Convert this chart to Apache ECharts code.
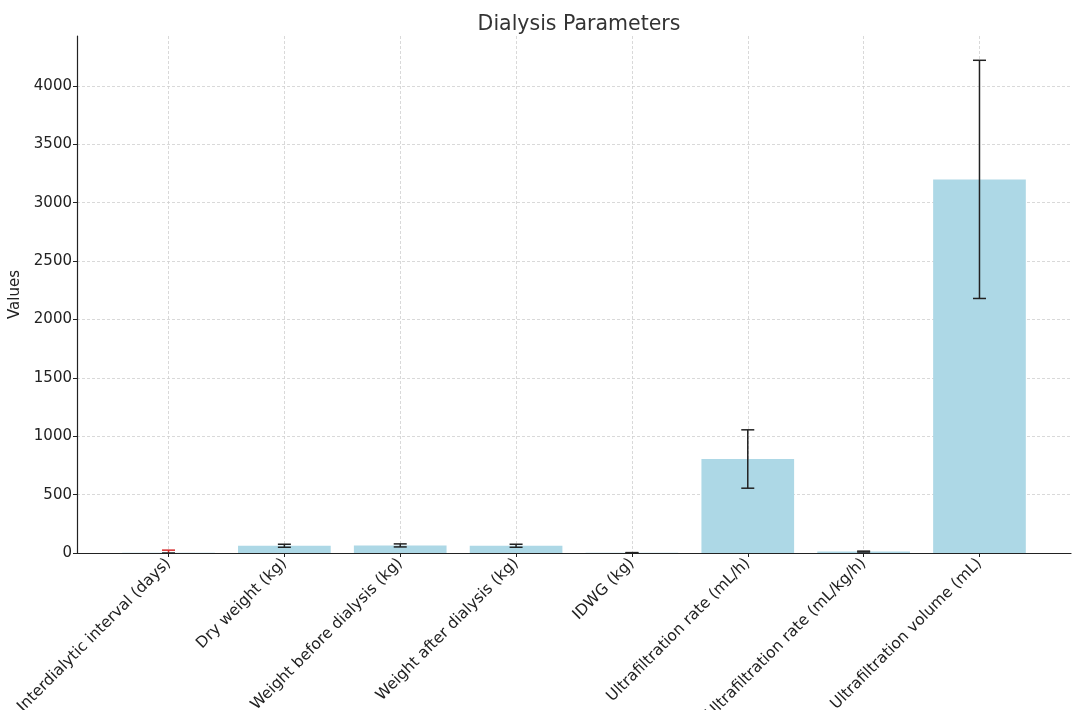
<!DOCTYPE html>
<html>
<head>
<meta charset="utf-8">
<title>Dialysis Parameters</title>
<script src="https://cdn.jsdelivr.net/npm/echarts@6/dist/echarts.min.js"></script>
<style>
  html, body { margin: 0; padding: 0; background: #fff; }
  #chart { width: 1072px; height: 710px; }
</style>
</head>
<body>
<div id="chart"></div>
<script>
// Dialysis session parameters: mean value per parameter with its standard deviation
const categories = [
  'Interdialytic interval (days)',
  'Dry weight (kg)',
  'Weight before dialysis (kg)',
  'Weight after dialysis (kg)',
  'IDWG (kg)',
  'Ultrafiltration rate (mL/h)',
  'Ultrafiltration rate (mL/kg/h)',
  'Ultrafiltration volume (mL)'
];
const means = [2.5, 62, 65, 62, 2.5, 805, 12, 3200];
const sds = [22, 13, 13, 13, 1, 250, 4, 1020];
const errorColors = ['#d62728', '#222', '#222', '#222', '#222', '#222', '#222', '#222'];
const yTicks = [0, 500, 1000, 1500, 2000, 2500, 3000, 3500, 4000];

const catIdx = categories.map((_, i) => i);
const barData = categories.map((_, i) => [i, means[i]]);
const errData = categories.map((_, i) => ({
  value: [i, Math.max(0, means[i] - sds[i]), means[i] + sds[i]],
  itemStyle: { color: errorColors[i] }
}));

const FONT = 'DejaVu Sans';
const dashed = { show: true, lineStyle: { color: '#cfcfcf', type: [3, 2], width: 0.8 } };

const chart = echarts.init(document.getElementById('chart'), null, { renderer: 'canvas' });
chart.setOption({
  animation: false,
  backgroundColor: '#fff',
  title: {
    text: 'Dialysis Parameters',
    left: 574, top: 9, textAlign: 'center',
    textStyle: { fontFamily: FONT, fontSize: 20.5, fontWeight: 'normal', color: '#333' }
  },
  grid: { left: 77, right: 1, top: 36, bottom: 157, containLabel: false, outerBoundsMode: 'none' },
  xAxis: {
    type: 'value',
    min: -0.79, max: 7.79,
    axisLine: { show: true, onZero: false, lineStyle: { color: '#222', width: 1.2 } },
    axisTick: { show: true, customValues: catIdx, length: 4, lineStyle: { color: '#222' } },
    axisLabel: {
      customValues: catIdx,
      formatter: v => categories[Math.round(v)],
      rotate: 45, margin: 8, hideOverlap: false,
      fontFamily: FONT, fontSize: 15.5, color: '#222'
    },
    splitLine: Object.assign({ customValues: catIdx }, dashed)
  },
  yAxis: {
    type: 'value',
    min: 0, max: 4428,
    name: 'Values', nameLocation: 'middle', nameGap: 51, nameRotate: 90,
    nameTextStyle: { fontFamily: FONT, fontSize: 15, color: '#222' },
    axisLine: { show: true, onZero: false, lineStyle: { color: '#222', width: 1.2 } },
    axisTick: { show: true, customValues: yTicks, length: 4, lineStyle: { color: '#222' } },
    axisLabel: {
      customValues: yTicks, formatter: v => String(v),
      fontFamily: FONT, fontSize: 15, color: '#222', margin: 5
    },
    splitLine: Object.assign({ customValues: yTicks }, dashed)
  },
  series: [
    {
      type: 'custom',
      name: 'mean',
      data: barData,
      z: 2,
      renderItem: function (params, api) {
        const x = api.value(0), y = api.value(1);
        const p0 = api.coord([x - 0.4, y]);
        const p1 = api.coord([x + 0.4, 0]);
        return {
          type: 'rect',
          shape: { x: p0[0], y: p0[1], width: p1[0] - p0[0], height: p1[1] - p0[1] },
          style: { fill: '#add8e6' }
        };
      }
    },
    {
      type: 'custom',
      name: 'sd',
      data: errData,
      z: 3,
      renderItem: function (params, api) {
        const x = api.value(0);
        const lo = api.coord([x, api.value(1)]);
        const hi = api.coord([x, api.value(2)]);
        const color = api.visual('color');
        const cap = 6.5;
        const st = { stroke: color, lineWidth: 1.5 };
        const capSt = { stroke: '#222', lineWidth: 1.5 };
        return {
          type: 'group',
          children: [
            { type: 'line', shape: { x1: lo[0], y1: lo[1], x2: hi[0], y2: hi[1] }, style: st },
            { type: 'line', shape: { x1: lo[0] - cap, y1: lo[1], x2: lo[0] + cap, y2: lo[1] }, style: capSt },
            { type: 'line', shape: { x1: hi[0] - cap, y1: hi[1], x2: hi[0] + cap, y2: hi[1] }, style: params.dataIndex === 0 ? st : capSt }
          ]
        };
      }
    }
  ]
});
</script>
</body>
</html>
